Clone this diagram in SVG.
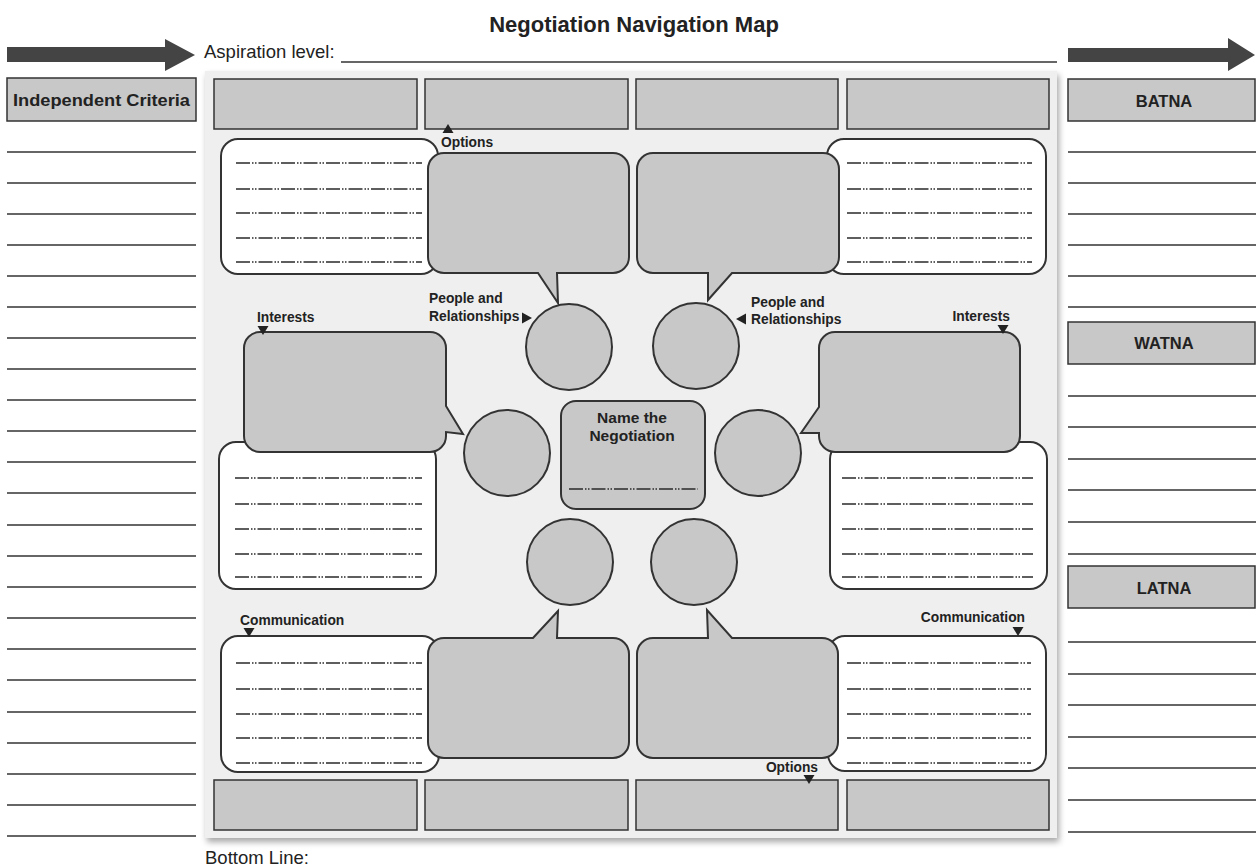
<svg xmlns="http://www.w3.org/2000/svg" xmlns:xlink="http://www.w3.org/1999/xlink" width="1256" height="868" viewBox="0 0 1256 868">
<style>
text{font-family:"Liberation Sans",Arial,Helvetica,sans-serif;fill:#222}
.title{font-size:22px;font-weight:bold}
.lbl{font-size:18.5px}
.hd{font-size:16.5px;font-weight:bold}
.nm{font-size:15.5px;font-weight:bold}
.sm{font-size:13.8px;font-weight:bold}
.rule{stroke:#333;stroke-width:1.3}
.gbox{fill:#c8c8c8;stroke:#333;stroke-width:1.5}
.bub{fill:#c8c8c8;stroke:#333;stroke-width:2}
.wbox{fill:#fff;stroke:#333;stroke-width:2}
.circ{fill:#c8c8c8;stroke:#333;stroke-width:2}
.dl{stroke:#2a2a2a;stroke-width:1.6;stroke-dasharray:14 2 1.5 1.5 1.5 2;fill:none}
.tri{fill:#222}
.big{fill:#444}
</style>
<defs>
<filter id="sh" x="-5%" y="-5%" width="110%" height="110%">
<feDropShadow dx="2" dy="4" stdDeviation="3" flood-color="#000" flood-opacity="0.35"/>
</filter>
<path id="tDown" d="M-5.5,0 H5.5 L0,9 Z"/>
<path id="tUp" d="M-5.5,0 H5.5 L0,-9 Z"/>
<path id="tRight" d="M0,-5.5 V5.5 L10,0 Z"/>
<path id="tLeft" d="M0,-5.5 V5.5 L-10,0 Z"/>
</defs>
<rect width="1256" height="868" fill="#fff"/>

<text class="title" x="634" y="32" text-anchor="middle">Negotiation Navigation Map</text>

<g id="aspiration">
<text class="lbl" x="204" y="58">Aspiration level:</text>
<line class="rule" x1="341" y1="62" x2="1057" y2="62"/>
</g>

<g id="bottom-line">
<text class="lbl" x="205" y="864">Bottom Line:</text>
</g>

<g id="independent-criteria">
<rect class="gbox" x="7" y="78" width="189" height="43"/>
<text class="hd" x="13" y="106" textLength="177" lengthAdjust="spacingAndGlyphs">Independent Criteria</text>
<g class="rule">
<line x1="7" y1="152" x2="196" y2="152"/><line x1="7" y1="183" x2="196" y2="183"/>
<line x1="7" y1="214" x2="196" y2="214"/><line x1="7" y1="245" x2="196" y2="245"/>
<line x1="7" y1="276" x2="196" y2="276"/><line x1="7" y1="307" x2="196" y2="307"/>
<line x1="7" y1="338" x2="196" y2="338"/><line x1="7" y1="369" x2="196" y2="369"/>
<line x1="7" y1="400" x2="196" y2="400"/><line x1="7" y1="431" x2="196" y2="431"/>
<line x1="7" y1="462" x2="196" y2="462"/><line x1="7" y1="493" x2="196" y2="493"/>
<line x1="7" y1="525" x2="196" y2="525"/><line x1="7" y1="556" x2="196" y2="556"/>
<line x1="7" y1="587" x2="196" y2="587"/><line x1="7" y1="618" x2="196" y2="618"/>
<line x1="7" y1="649" x2="196" y2="649"/><line x1="7" y1="680" x2="196" y2="680"/>
<line x1="7" y1="712" x2="196" y2="712"/><line x1="7" y1="743" x2="196" y2="743"/>
<line x1="7" y1="774" x2="196" y2="774"/><line x1="7" y1="805" x2="196" y2="805"/>
<line x1="7" y1="836" x2="196" y2="836"/>
</g>
</g>

<g id="batna">
<rect class="gbox" x="1068" y="79" width="187" height="42"/>
<text class="hd" x="1164" y="107" text-anchor="middle">BATNA</text>
<g class="rule">
<line x1="1068" y1="152" x2="1256" y2="152"/><line x1="1068" y1="183" x2="1256" y2="183"/>
<line x1="1068" y1="214" x2="1256" y2="214"/><line x1="1068" y1="245" x2="1256" y2="245"/>
<line x1="1068" y1="276" x2="1256" y2="276"/><line x1="1068" y1="307" x2="1256" y2="307"/>
</g>
</g>
<g id="watna">
<rect class="gbox" x="1068" y="322" width="187" height="42"/>
<text class="hd" x="1164" y="349" text-anchor="middle">WATNA</text>
<g class="rule">
<line x1="1068" y1="396" x2="1256" y2="396"/><line x1="1068" y1="427" x2="1256" y2="427"/>
<line x1="1068" y1="459" x2="1256" y2="459"/><line x1="1068" y1="490" x2="1256" y2="490"/>
<line x1="1068" y1="522" x2="1256" y2="522"/><line x1="1068" y1="554" x2="1256" y2="554"/>
</g>
</g>
<g id="latna">
<rect class="gbox" x="1068" y="566" width="187" height="42"/>
<text class="hd" x="1164" y="594" text-anchor="middle">LATNA</text>
<g class="rule">
<line x1="1068" y1="642" x2="1256" y2="642"/><line x1="1068" y1="674" x2="1256" y2="674"/>
<line x1="1068" y1="705" x2="1256" y2="705"/><line x1="1068" y1="737" x2="1256" y2="737"/>
<line x1="1068" y1="768" x2="1256" y2="768"/><line x1="1068" y1="800" x2="1256" y2="800"/>
<line x1="1068" y1="832" x2="1256" y2="832"/>
</g>
</g>

<g id="panel">
<rect x="205" y="71" width="852" height="767" fill="#efefef" filter="url(#sh)"/>
</g>

<g id="top-boxes">
<rect class="gbox" x="214" y="79" width="203" height="50"/>
<rect class="gbox" x="425" y="79" width="203" height="50"/>
<rect class="gbox" x="636" y="79" width="202" height="50"/>
<rect class="gbox" x="847" y="79" width="202" height="50"/>
</g>
<g id="bottom-boxes">
<rect class="gbox" x="214" y="780" width="203" height="50"/>
<rect class="gbox" x="425" y="780" width="203" height="50"/>
<rect class="gbox" x="636" y="780" width="202" height="50"/>
<rect class="gbox" x="847" y="780" width="202" height="50"/>
</g>

<g id="notes-top-left">
<rect class="wbox" x="221" y="139" width="217" height="135" rx="17"/>
<line class="dl" x1="236" y1="163" x2="422" y2="163"/>
<line class="dl" x1="236" y1="189" x2="422" y2="189"/>
<line class="dl" x1="236" y1="213" x2="422" y2="213"/>
<line class="dl" x1="236" y1="238" x2="422" y2="238"/>
<line class="dl" x1="236" y1="262" x2="422" y2="262"/>
</g>
<g id="notes-top-right">
<rect class="wbox" x="827" y="139" width="219" height="135" rx="17"/>
<line class="dl" x1="847" y1="163" x2="1032" y2="163"/>
<line class="dl" x1="847" y1="189" x2="1032" y2="189"/>
<line class="dl" x1="847" y1="213" x2="1032" y2="213"/>
<line class="dl" x1="847" y1="238" x2="1032" y2="238"/>
<line class="dl" x1="847" y1="262" x2="1032" y2="262"/>
</g>
<g id="notes-mid-left">
<rect class="wbox" x="219" y="442" width="217" height="147" rx="17"/>
<line class="dl" x1="235" y1="478" x2="422" y2="478"/>
<line class="dl" x1="235" y1="504" x2="422" y2="504"/>
<line class="dl" x1="235" y1="529" x2="422" y2="529"/>
<line class="dl" x1="235" y1="554" x2="422" y2="554"/>
<line class="dl" x1="235" y1="577" x2="422" y2="577"/>
</g>
<g id="notes-mid-right">
<rect class="wbox" x="830" y="442" width="217" height="147" rx="17"/>
<line class="dl" x1="842" y1="478" x2="1033" y2="478"/>
<line class="dl" x1="842" y1="504" x2="1033" y2="504"/>
<line class="dl" x1="842" y1="529" x2="1033" y2="529"/>
<line class="dl" x1="842" y1="554" x2="1033" y2="554"/>
<line class="dl" x1="842" y1="577" x2="1033" y2="577"/>
</g>
<g id="notes-bottom-left">
<rect class="wbox" x="221" y="636" width="218" height="136" rx="17"/>
<line class="dl" x1="236" y1="663" x2="422" y2="663"/>
<line class="dl" x1="236" y1="689" x2="422" y2="689"/>
<line class="dl" x1="236" y1="714" x2="422" y2="714"/>
<line class="dl" x1="236" y1="738" x2="422" y2="738"/>
<line class="dl" x1="236" y1="763" x2="422" y2="763"/>
</g>
<g id="notes-bottom-right">
<rect class="wbox" x="828" y="636" width="218" height="135" rx="17"/>
<line class="dl" x1="847" y1="663" x2="1031" y2="663"/>
<line class="dl" x1="847" y1="689" x2="1031" y2="689"/>
<line class="dl" x1="847" y1="714" x2="1031" y2="714"/>
<line class="dl" x1="847" y1="738" x2="1031" y2="738"/>
<line class="dl" x1="847" y1="763" x2="1031" y2="763"/>
</g>

<g id="bubble-top-left">
<path class="bub" d="M444,153 H613 A16,16 0 0 1 629,169 V257 A16,16 0 0 1 613,273 H557 L558,303 L538,273 H444 A16,16 0 0 1 428,257 V169 A16,16 0 0 1 444,153 Z"/>
</g>
<g id="bubble-top-right">
<path class="bub" d="M653,153 H823 A16,16 0 0 1 839,169 V257 A16,16 0 0 1 823,273 H732 L708,300 L708,273 H653 A16,16 0 0 1 637,257 V169 A16,16 0 0 1 653,153 Z"/>
</g>
<g id="bubble-mid-left">
<path class="bub" d="M260,332 H430 A16,16 0 0 1 446,348 V406 L463,434 L446,432 V436 A16,16 0 0 1 430,452 H260 A16,16 0 0 1 244,436 V348 A16,16 0 0 1 260,332 Z"/>
</g>
<g id="bubble-mid-right">
<path class="bub" d="M835,332 H1004 A16,16 0 0 1 1020,348 V436 A16,16 0 0 1 1004,452 H835 A16,16 0 0 1 819,436 V433 L801,433 L819,407 V348 A16,16 0 0 1 835,332 Z"/>
</g>
<g id="bubble-bottom-left">
<path class="bub" d="M444,638 H533 L558,611 L557,638 H613 A16,16 0 0 1 629,654 V742 A16,16 0 0 1 613,758 H444 A16,16 0 0 1 428,742 V654 A16,16 0 0 1 444,638 Z"/>
</g>
<g id="bubble-bottom-right">
<path class="bub" d="M653,638 H708 L707,610 L732,638 H822 A16,16 0 0 1 838,654 V742 A16,16 0 0 1 822,758 H653 A16,16 0 0 1 637,742 V654 A16,16 0 0 1 653,638 Z"/>
</g>

<g id="circle-top-left"><circle class="circ" cx="569" cy="347" r="43"/></g>
<g id="circle-top-right"><circle class="circ" cx="696" cy="346" r="43"/></g>
<g id="circle-mid-left"><circle class="circ" cx="507" cy="453" r="43"/></g>
<g id="circle-mid-right"><circle class="circ" cx="758" cy="453" r="43"/></g>
<g id="circle-bottom-left"><circle class="circ" cx="570" cy="562" r="43"/></g>
<g id="circle-bottom-right"><circle class="circ" cx="694" cy="562" r="43"/></g>

<g id="name-negotiation">
<rect class="bub" x="561" y="401" width="144" height="108" rx="15"/>
<text class="nm" x="632" y="423" text-anchor="middle">Name the</text>
<text class="nm" x="632" y="441" text-anchor="middle">Negotiation</text>
<line class="dl" x1="569" y1="489" x2="698" y2="489"/>
</g>

<g id="labels">
<text class="sm" x="441" y="147">Options</text>
<text class="sm" x="429" y="303">People and</text>
<text class="sm" x="429" y="321">Relationships</text>
<text class="sm" x="751" y="307">People and</text>
<text class="sm" x="751" y="324">Relationships</text>
<text class="sm" x="257" y="322">Interests</text>
<text class="sm" x="1010" y="321" text-anchor="end">Interests</text>
<text class="sm" x="240" y="625">Communication</text>
<text class="sm" x="1025" y="622" text-anchor="end">Communication</text>
<text class="sm" x="818" y="772" text-anchor="end">Options</text>
</g>

<g id="connectors">
<path class="big" d="M7,47 H165 V39 L195,55 L165,71 V62 H7 Z"/>
<path class="big" d="M1068,48 H1228 V38 L1255,55 L1228,71 V62 H1068 Z"/>
<use href="#tUp" xlink:href="#tUp" class="tri" x="448" y="133"/>
<use href="#tRight" xlink:href="#tRight" class="tri" x="522" y="318"/>
<use href="#tLeft" xlink:href="#tLeft" class="tri" x="746" y="319"/>
<use href="#tDown" xlink:href="#tDown" class="tri" x="263" y="326"/>
<use href="#tDown" xlink:href="#tDown" class="tri" x="1003" y="325"/>
<use href="#tDown" xlink:href="#tDown" class="tri" x="249" y="628"/>
<use href="#tDown" xlink:href="#tDown" class="tri" x="1018" y="627"/>
<use href="#tDown" xlink:href="#tDown" class="tri" x="809" y="775"/>
</g>
</svg>
